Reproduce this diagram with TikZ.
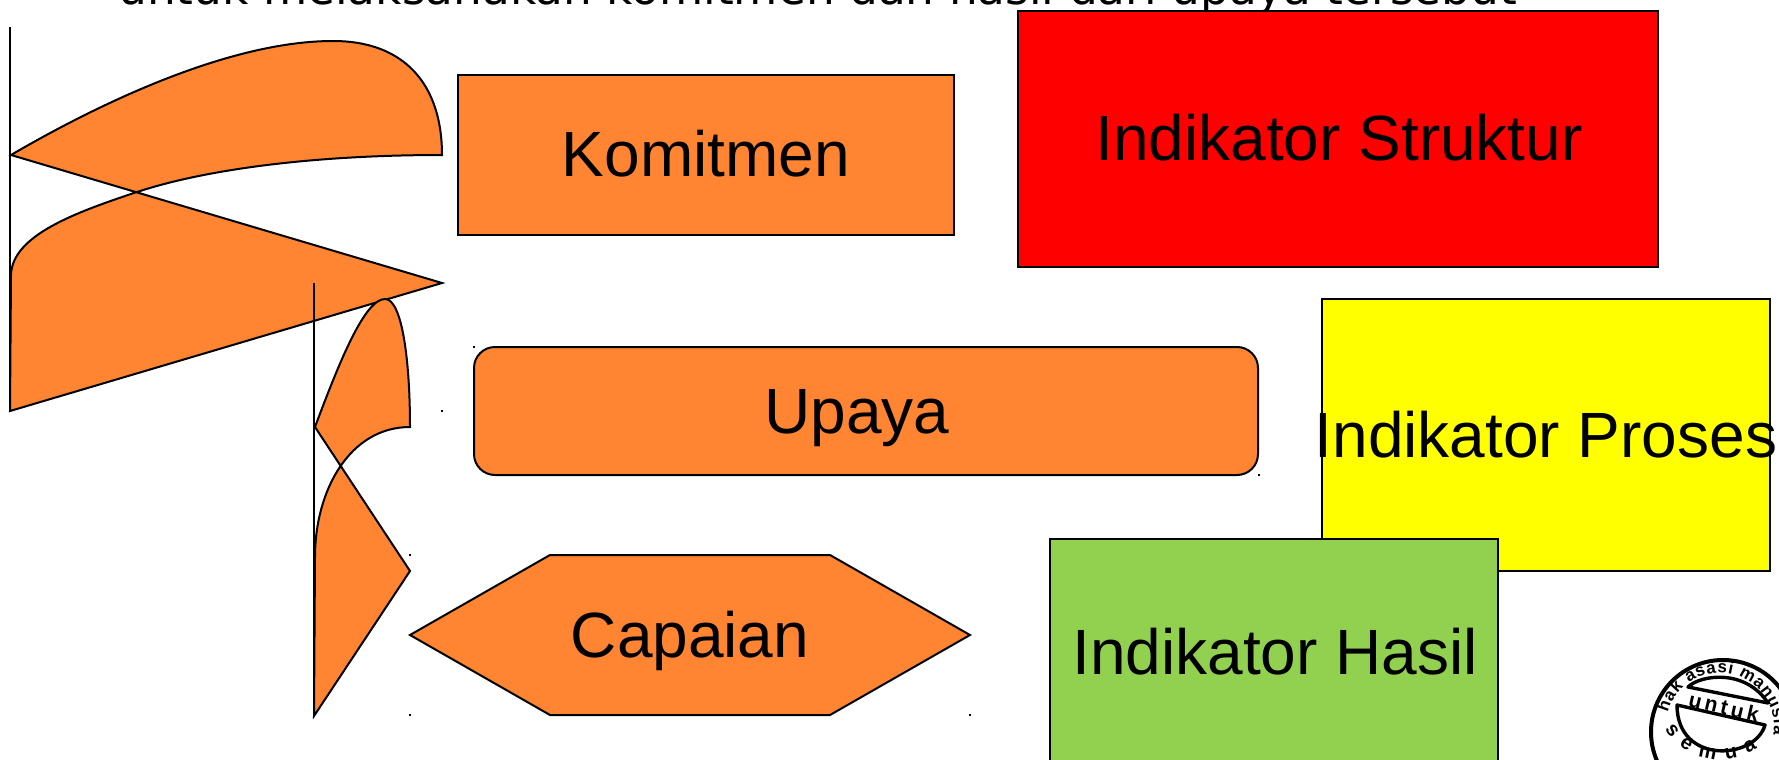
\documentclass[tikz,border=0pt]{standalone}
\usepackage{fontspec}
\setmainfont{Liberation Sans}
\newfontfamily\topfont{DejaVu Sans}
\usetikzlibrary{decorations.text}
\definecolor{orangefill}{HTML}{FF8533}
\definecolor{greenfill}{HTML}{92D050}
\definecolor{redfill}{HTML}{FF0000}
\definecolor{yellowfill}{HTML}{FFFF00}
\tikzset{
  px/.style={x=0.5pt,y=-0.5pt},
  shapeline/.style={draw=black,line width=1pt,line join=miter},
  orangeshape/.style={shapeline,fill=orangefill},
  boxnode/.style={shapeline,inner sep=0pt,outer sep=0pt,anchor=north west},
  label/.style={anchor=base,inner sep=0pt,font=\fontsize{32}{38}\selectfont,text=black},
  cornerdot/.style={fill=black,draw=none,minimum size=0.7pt,inner sep=0pt,rectangle},
  stamp/.style={draw=black,line width=2pt},
}
\begin{document}
\begin{tikzpicture}[px]
\useasboundingbox (0,0) rectangle (1779,760);
\clip (0,0) rectangle (1779,760);
\node[anchor=base west,inner sep=0pt,font=\topfont\fontsize{22.7}{28}\selectfont] (title) at (118,4) {untuk melaksanakan komitmen dan hasil dari upaya tersebut};

% first curved figure
\draw[shapeline] (10,27) -- (10,411);
\draw[orangeshape] (11,155) .. controls (100,103) and (230,41) .. (333,41)
  .. controls (405,41) and (442,85) .. (442,155)
  .. controls (320,155) and (210,168) .. (137,192)
  .. controls (77,212) and (12,235) .. (11,275)
  -- (10,411) -- (442,283) -- cycle;

% second curved figure
\draw[shapeline] (314,283) -- (314,716);
\draw[orangeshape] (315,427) .. controls (340,360) and (365,299) .. (385,299)
  .. controls (402,299) and (410,360) .. (410,427)
  .. controls (350,427) and (315,490) .. (315,557)
  -- (314,716) -- (410,571) -- cycle;

% boxes
\node[boxnode,fill=orangefill,minimum width=248pt,minimum height=80pt] (komitmenbox) at (458,75) {};
\node[boxnode,fill=redfill,minimum width=320pt,minimum height=128pt] (strukturbox) at (1018,11) {};
\node[boxnode,fill=yellowfill,minimum width=224pt,minimum height=136pt] (prosesbox) at (1322,299) {};
\node[boxnode,fill=greenfill,minimum width=224pt,minimum height=150pt] (hasilbox) at (1050,539) {};
\draw[orangeshape,rounded corners=10.5pt] (474,347) rectangle (1258,475);
\draw[orangeshape] (410,635) -- (550,555) -- (830,555) -- (970,635) -- (830,715) -- (550,715) -- cycle;

% tiny corner marks
\foreach \n/\p in {a/{474,347},b/{1259,475},c/{442,411},d/{410,555},e/{410,715},f/{970,715}}{
  \node[cornerdot] (dot\n) at (\p) {};
}

% labels
\node[label] (komitmen) at (706,176) {Komitmen};
\node[label] (upaya) at (857,433) {Upaya};
\node[label] (capaian) at (690,657) {Capaian};
\node[label] (struktur) at (1339,160) {Indikator Struktur};
\node[label] (proses) at (1546,457) {Indikator Proses};
\node[label] (hasil) at (1275,674) {Indikator Hasil};

% stamp
\draw[stamp] (1723,732) circle[radius=36pt];
\draw[stamp,line width=1.7pt,line join=round] (1688,687) .. controls (1700,675) and (1745,668) .. (1768,703) -- cycle;
\draw[stamp,line width=1.7pt,line join=round] (1677,705) .. controls (1677,765) and (1755,760) .. (1765,725) -- cycle;
\node[inner sep=0pt,rotate=-13,font=\bfseries\fontsize{10.5}{12}\selectfont] (untuk) at (1724,707) {u\,n\,t\,u\,k};
\path[decorate,decoration={text along path,text align={fit to path},
  text={|\bfseries\fontsize{8.5}{10}\selectfont|hak asasi manusia}}]
  plot[domain=165:-8,samples=60] ({1720+54*cos(\x)},{727-54*sin(\x)});
\path[decorate,decoration={text along path,text align={fit to path},
  text={|\bfseries\fontsize{10}{10}\selectfont|semua}}]
  plot[domain=212:305,samples=40] ({1720+65*cos(\x)},{695-65*sin(\x)});
\end{tikzpicture}
\end{document}
